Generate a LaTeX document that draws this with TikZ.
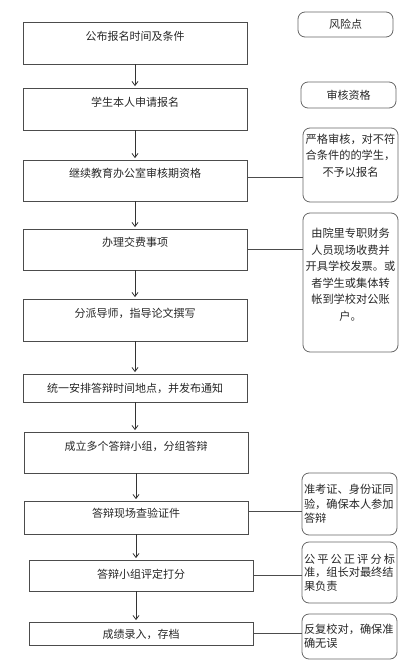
\documentclass[tikz,border=0pt]{standalone}
\usepackage{fontspec}
\newfontfamily\cjk{Noto Sans CJK SC}
\usetikzlibrary{arrows.meta}

\begin{document}
\begin{tikzpicture}[
x=1pt,y=-1pt,
font=\cjk\fontsize{11}{13}\selectfont,
stepbox/.style={draw=black!70,line width=0.8pt,minimum width=224pt,inner sep=0pt},
steptext/.style={inner sep=0pt,text=black!85},
riskbox/.style={draw=black!60,line width=0.8pt,rounded corners=7pt,minimum width=95pt,inner sep=1.5pt,text=black!85},
flow/.style={draw=black!80,line width=0.8pt,-{Straight Barb[length=4pt,width=6pt]},shorten >=1.5pt},
link/.style={draw=black!70,line width=0.8pt}
]

\useasboundingbox (0,0) rectangle (418,663);

%%%%%%%%%%%%%%%%%%%%%%%%%%%%%%%%%%%%%%%%%%%%%%%%%%%%%%
% MAIN STEPS
%%%%%%%%%%%%%%%%%%%%%%%%%%%%%%%%%%%%%%%%%%%%%%%%%%%%%%

\node[stepbox,minimum height=42pt](s1) at (135,43){};
\node[steptext](t1) at ([yshift=-15pt]s1.north){公布报名时间及条件};

\node[stepbox,minimum height=42pt](s2) at (135,109){};
\node[steptext](t2) at ([yshift=-15pt]s2.north){学生本人申请报名};

\node[stepbox,minimum height=41pt](s3) at (135,180.5){};
\node[steptext](t3) at ([yshift=-14pt]s3.north){继续教育办公室审核期资格};

\node[stepbox,minimum height=41pt](s4) at (135,249.5){};
\node[steptext](t4) at ([yshift=-14pt]s4.north){办理交费事项};

\node[stepbox,minimum height=42pt](s5) at (135,320){};
\node[steptext](t5) at ([yshift=-15pt]s5.north){分派导师，指导论文撰写};

\node[stepbox,minimum height=28pt](s6) at (135,388){};
\node[steptext](t6) at ([yshift=-15pt]s6.north){统一安排答辩时间地点，并发布通知};

\node[stepbox,minimum height=41pt](s7) at (136,452.5){};
\node[steptext](t7) at ([yshift=-15pt]s7.north){成立多个答辩小组，分组答辩};

\node[stepbox,minimum height=33pt](s8) at (136,517.5){};
\node[steptext](t8) at ([yshift=-13pt]s8.north){答辩现场查验证件};

\node[stepbox,minimum height=31pt](s9) at (141,575.5){};
\node[steptext](t9) at ([yshift=-15pt]s9.north){答辩小组评定打分};

\node[stepbox,minimum height=23pt](s10) at (141,633.5){};
\node[steptext](t10) at ([yshift=-13pt]s10.north){成绩录入，存档};

%%%%%%%%%%%%%%%%%%%%%%%%%%%%%%%%%%%%%%%%%%%%%%%%%%%%%%
% RISK POINTS
%%%%%%%%%%%%%%%%%%%%%%%%%%%%%%%%%%%%%%%%%%%%%%%%%%%%%%

\node[riskbox,minimum height=25pt](r1) at (345.5,24.5){风险点};

\node[riskbox,minimum height=26pt](r2) at (348.5,95){审核资格};

\node[
riskbox,
minimum height=74pt,
align=center,
font=\cjk\fontsize{11.2}{16.8}\selectfont
](r3) at (350.5,165)
{严格审核，对不符\\合条件的的学生，\\不予以报名\\[3pt]};

\node[
riskbox,
minimum height=139pt,
align=center,
font=\cjk\fontsize{11.2}{16.5}\selectfont
](r4) at (350.5,282.5)
{由院里专职财务\\人员现场收费并\\开具学校发票。或\\者学生或集体转\\帐到学校对公账\\户。\\ \mbox{}};

\node[
riskbox,
minimum height=62pt,
align=left,
text width=91pt,
font=\cjk\fontsize{11.2}{14.5}\selectfont
](r5) at (349.5,504)
{准考证、身份证同\\验，确保本人参加\\答辩};

\node[
riskbox,
minimum height=61pt,
align=left,
text width=91pt,
font=\cjk\fontsize{11.2}{13.5}\selectfont
](r6) at (349.5,572.5)
{\makebox[91pt][s]{公\hfill 平\hfill 公\hfill 正\hfill 评\hfill 分\hfill 标}\\准，组长对最终结\\果负责};

\node[
riskbox,
minimum height=45pt,
align=left,
text width=91pt,
font=\cjk\fontsize{11.2}{14}\selectfont
](r7) at (349.5,636.5)
{反复校对，确保准\\确无误};

%%%%%%%%%%%%%%%%%%%%%%%%%%%%%%%%%%%%%%%%%%%%%%%%%%%%%%
% ARROWS
%%%%%%%%%%%%%%%%%%%%%%%%%%%%%%%%%%%%%%%%%%%%%%%%%%%%%%

\draw[flow] (s1.south) -- (s2.north);
\draw[flow] (s2.south) -- (s3.north);
\draw[flow] (s3.south) -- (s4.north);
\draw[flow] (s4.south) -- (s5.north);
\draw[flow] (s5.south) -- (s6.north);
\draw[flow] (s6.south) -- (s6.south |- s7.north);
\draw[flow] (s7.south) -- (s8.north);
\draw[flow] (s8.south) -- (s8.south |- s9.north);
\draw[flow] (s9.south -| s8.south) -- (s8.south |- s10.north);

%%%%%%%%%%%%%%%%%%%%%%%%%%%%%%%%%%%%%%%%%%%%%%%%%%%%%%
% LINKS
%%%%%%%%%%%%%%%%%%%%%%%%%%%%%%%%%%%%%%%%%%%%%%%%%%%%%%

\draw[link] ([yshift=3pt]s3.east) -- ([yshift=3pt]s3.east -| r3.west);
\draw[link] (s4.east) -- (s4.east -| r4.west);
\draw[link] ([yshift=6pt]s8.east) -- ([yshift=6pt]s8.east -| r5.west);
\draw[link] (s9.east) -- (s9.east -| r6.west);
\draw[link] (s10.east) -- (s10.east -| r7.west);

\end{tikzpicture}
\end{document}
